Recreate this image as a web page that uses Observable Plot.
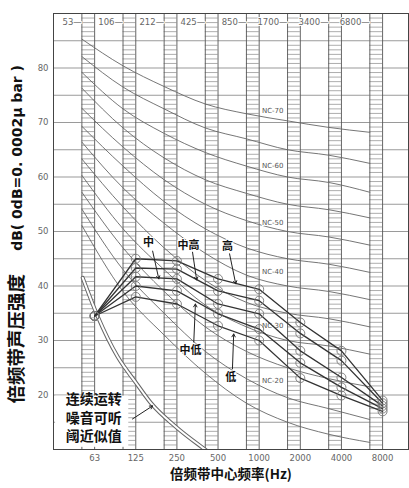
<!DOCTYPE html>
<html>
<head>
<meta charset="utf-8">
<script src="https://cdn.jsdelivr.net/npm/d3@7"></script>
<script src="https://cdn.jsdelivr.net/npm/@observablehq/plot@0.6"></script>
<style>
html,body{margin:0;padding:0;background:#fff;}
</style>
</head>
<body>
<div id="chart"></div>
<script>
// ---------- data ----------
const bands = ["63","125","250","500","1000","2000","4000","8000"];
const edges = ["53","106","212","425","850","1700","3400","6800"];

// NC curves (dB at each band)
const ncNames = ["NC-70","NC-65","NC-60","NC-55","NC-50","NC-45","NC-40","NC-35","NC-30","NC-25","NC-20","NC-15"];
const nc70 = [85.3, 80.4, 76.6, 73.4, 71.6, 70.3, 69.1, 68.2];
const nc65 = [82.1, 76.5, 72.5, 69.0, 67.0, 65.0, 64.0, 62.5];
const nc60 = [79.2, 72.5, 68.0, 64.5, 62.0, 60.0, 59.0, 57.2];
const nc55 = [76.3, 69.0, 63.5, 59.5, 57.0, 55.0, 54.0, 52.5];
const nc50 = [72.6, 65.5, 59.5, 55.0, 52.0, 50.0, 49.0, 47.5];
const nc45 = [69.3, 62.0, 55.5, 50.5, 47.0, 45.0, 44.0, 42.5];
const nc40 = [66.4, 58.0, 51.5, 46.0, 42.0, 40.0, 39.0, 37.5];
const nc35 = [63.3, 54.5, 47.0, 41.0, 37.0, 35.0, 34.0, 32.5];
const nc30 = [60.3, 50.5, 43.0, 36.5, 32.5, 30.0, 29.0, 27.5];
const nc25 = [57.2, 47.0, 39.0, 32.5, 28.0, 25.0, 23.0, 21.5];
const nc20 = [54.1, 43.0, 35.0, 28.0, 23.0, 19.5, 17.5, 15.5];
const nc15 = [51.1, 39.0, 31.0, 24.0, 18.5, 15.0, 12.8, 11.3];
const ncValues = [nc70, nc65, nc60, nc55, nc50, nc45, nc40, nc35, nc30, nc25, nc20, nc15];
const ncLabels = ["NC-70","NC-60","NC-50","NC-40","NC-30","NC-20"];
const ncLabelY = [72.1, 62.0, 51.6, 42.6, 32.7, 22.6];

// measured spectra
const seriesNames = ["高","中高","中","中低","低"];
const sHigh    = [34.5, 45.0, 44.6, 41.3, 39.4, 33.3, 28.1, 19.0];
const sMidHigh = [34.5, 43.3, 43.1, 39.1, 37.3, 31.3, 26.3, 18.5];
const sMid     = [34.5, 41.7, 41.3, 36.7, 34.9, 28.1, 23.2, 18.0];
const sMidLow  = [34.5, 40.0, 39.1, 34.9, 32.1, 25.9, 21.4, 17.5];
const sLow     = [34.5, 38.0, 36.7, 32.7, 30.0, 23.1, 19.9, 17.0];
const seriesValues = [sHigh, sMidHigh, sMid, sMidLow, sLow];

// audibility threshold (octave index, dB)
const threshX = [-0.29, 0.07, 0.56, 1.0, 1.36, 2.0, 2.63, 2.95];
const threshY = [41.5, 34.5, 27.0, 22.3, 18.6, 14.0, 10.3, 8.5];

// annotation labels (octave index, dB)
const annText = ["中","中高","高","中低","低"];
const annX  = [1.31, 2.28, 3.23, 2.33, 3.31];
const annY  = [47.9, 47.5, 47.2, 28.1, 23.3];
const arrX1 = [1.41, 2.38, 3.28, 2.41, 3.35];
const arrY1 = [46.4, 46.2, 45.9, 29.7, 24.8];
const arrX2 = [1.56, 2.48, 3.43, 2.45, 3.38];
const arrY2 = [41.3, 41.1, 40.4, 36.7, 31.2];

// ---------- derived tables ----------
const colW = 0.31;
const ncData = ncValues.flatMap((vals, k) => vals.map((v, i) => ({nc: ncNames[k], x: i - colW, y: v})));
const seriesData = seriesValues.flatMap((vals, k) => vals.map((v, i) => ({s: seriesNames[k], x: i, y: v})));
const threshData = threshX.map((x, i) => ({x, y: threshY[i]}));
const stripeYs = d3.range(10, 90.01, 5/6);
const stripes = bands.flatMap((b, i) => stripeYs.map(y => ({x1: i - colW, x2: i, y})));
const colEdges = bands.flatMap((b, i) => [i - colW, i]);
const ann = annText.map((t, i) => ({t, x: annX[i], y: annY[i], x1: arrX1[i], y1: arrY1[i], x2: arrX2[i], y2: arrY2[i]}));
const noteLines = ["连续运转", "噪音可听", "阈近似值"];
const noteY = [19.1, 15.7, 12.3];

const fontCJK = "'Noto Sans CJK SC', 'Noto Sans', sans-serif";
const fontNum = "'DejaVu Sans', sans-serif";

const chart = Plot.plot({
  width: 409,
  height: 488,
  marginLeft: 53,
  marginRight: 1,
  marginTop: 13,
  marginBottom: 39,
  x: {type: "linear", domain: [-1, 7.63], axis: null},
  y: {domain: [10, 90], axis: null},
  style: {background: "white", fontFamily: fontNum, overflow: "visible"},
  marks: [
    Plot.ruleY(d3.range(10, 91, 5), {stroke: "#9a9a9a", strokeWidth: 1.2}),
    Plot.rect(bands, {x1: (d, i) => i - colW, x2: (d, i) => i, y1: 10, y2: 90, fill: "white"}),
    Plot.ruleY(stripes, {y: "y", x1: "x1", x2: "x2", stroke: "#8a8a8a", strokeWidth: 0.7}),
    Plot.ruleX(colEdges, {stroke: "#555", strokeWidth: 0.9}),
    Plot.line(ncData, {x: "x", y: "y", z: "nc", curve: "monotone-x", stroke: "#666", strokeWidth: 0.9, clip: true}),
    Plot.line(threshData, {x: "x", y: "y", curve: "monotone-x", stroke: "#666", strokeWidth: 4, clip: true}),
    Plot.line(threshData, {x: "x", y: "y", curve: "monotone-x", stroke: "white", strokeWidth: 2, clip: true}),
    Plot.text(ncLabels, {x: 4.33, y: (d, i) => ncLabelY[i], text: d => d, fontSize: 7, fill: "#555", stroke: "white", strokeWidth: 2}),
    Plot.line(seriesData, {x: "x", y: "y", z: "s", stroke: "#333", strokeWidth: 1.3}),
    Plot.dot(seriesData, {x: "x", y: "y", r: 4.5, stroke: "#777", strokeWidth: 0.9, fill: "none"}),
    Plot.arrow(ann, {x1: "x1", y1: "y1", x2: "x2", y2: "y2", stroke: "#222", strokeWidth: 1, headLength: 5}),
    Plot.text(ann, {x: "x", y: "y", text: "t", fontSize: 11, fontWeight: "bold", fontFamily: fontCJK, fill: "#111", stroke: "white", strokeWidth: 2}),
    // threshold note
    Plot.rect([0], {x1: -0.95, x2: 0.83, y1: 10.4, y2: 19.8, fill: "white"}),
    Plot.arrow([0], {x1: 0.92, y1: 15.6, x2: 1.41, y2: 18.0, stroke: "#222", strokeWidth: 1, headLength: 5}),
    Plot.text(noteLines, {x: -0.02, y: (d, i) => noteY[i], text: d => d, fontSize: 14, fontWeight: "bold", fontFamily: fontCJK, fill: "#111"}),
    Plot.frame({stroke: "#444", strokeWidth: 1}),
    // axes labels
    Plot.text(bands, {x: (d, i) => i, frameAnchor: "bottom", dy: 11, text: d => d, fontSize: 8.5, fill: "#666", style: "letter-spacing:1px"}),
    Plot.text(edges, {x: (d, i) => i - colW, frameAnchor: "top", dy: 5, textAnchor: "end", text: d => d + "—", fontSize: 8.5, fill: "#666", stroke: "white", strokeWidth: 2}),
    Plot.text(d3.range(20, 81, 10), {y: d => d, frameAnchor: "left", dx: -5, textAnchor: "end", text: d => d, fontSize: 8.5, fill: "#666"}),
    Plot.text(["倍频带声压强度"], {y: 30.3, frameAnchor: "left", textAnchor: "middle", dx: -36, rotate: -90, fontSize: 18.5, fontWeight: "bold", fontFamily: fontCJK, fill: "#111"}),
    Plot.text(["dB( 0dB=0. 0002μ bar )"], {y: 63.5, frameAnchor: "left", textAnchor: "middle", dx: -36, rotate: -90, fontSize: 14, fontWeight: "bold", fontFamily: fontNum, fill: "#111"}),
    Plot.text(["倍频带中心频率(Hz)"], {frameAnchor: "bottom", dy: 29, fontSize: 13.5, fontWeight: "bold", fontFamily: fontCJK, fill: "#111"})
  ]
});
document.getElementById("chart").appendChild(chart);
</script>
</body>
</html>
